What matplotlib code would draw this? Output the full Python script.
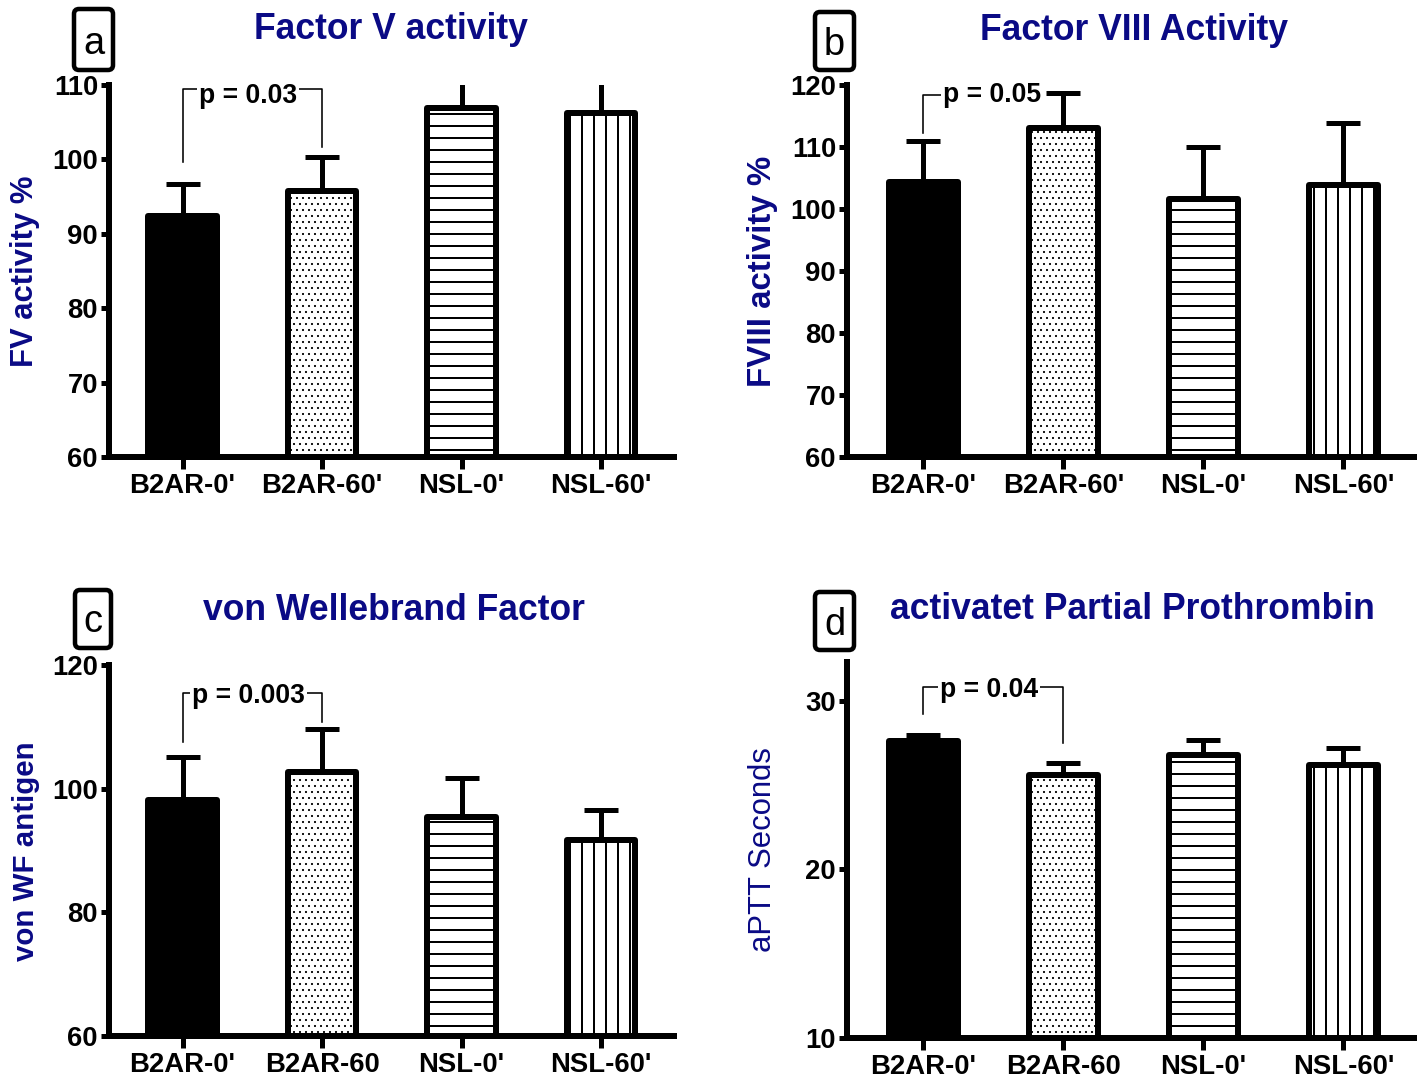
import matplotlib
matplotlib.use("Agg")
import matplotlib.pyplot as plt
import numpy as np
from matplotlib.patches import FancyBboxPatch
from matplotlib.transforms import IdentityTransform

# ---------------- data ----------------
categories_ab = ["B2AR-0'", "B2AR-60'", "NSL-0'", "NSL-60'"]
categories_cd = ["B2AR-0'", "B2AR-60", "NSL-0'", "NSL-60'"]

fv_mean = [92.4, 95.8, 106.9, 106.2]
fv_sem = [4.3, 4.5, 5.5, 5.5]

fviii_mean = [104.3, 113.1, 101.6, 103.9]
fviii_sem = [6.6, 5.6, 8.4, 9.9]

vwf_mean = [98.2, 102.7, 95.4, 91.7]
vwf_sem = [6.9, 7.0, 6.4, 4.8]

aptt_mean = [27.6, 25.6, 26.8, 26.2]
aptt_sem = [0.4, 0.7, 0.9, 1.0]

titles = ["Factor V activity", "Factor VIII Activity",
          "von Wellebrand Factor", "activatet Partial Prothrombin"]
ylabels = ["FV activity %", "FVIII activity %", "von WF antigen", "aPTT Seconds"]
letters = ["a", "b", "c", "d"]
p_texts = ["p = 0.03", "p = 0.05", "p = 0.003", "p = 0.04"]

# ---------------- style ----------------
plt.rcParams["font.family"] = ["Liberation Sans", "DejaVu Sans"]
plt.rcParams["font.weight"] = "bold"
plt.rcParams["hatch.linewidth"] = 2.0
NAVY = "#0a0a85"

W, H = 1417, 1080
DPI = 72
fig = plt.figure(figsize=(W / DPI, H / DPI), dpi=DPI)
fig.patch.set_facecolor("white")


def rect(l, r, b, t):
    return [l / W, 1 - b / H, (r - l) / W, (b - t) / H]


hatches = [None, "..", "-", "|"]
hatch_lw = [1.0, 0.9, 2.0, 2.0]
faces = ["black", "white", "white", "white"]

panels = [
    dict(box=rect(109, 674, 457, 85), xlim=(-0.527, 3.523), ylim=(60, 110),
         yticks=np.arange(60, 111, 10), mean=fv_mean, sem=fv_sem, cats=categories_ab,
         title_xy=(391, 39), ylab_xy=(25, 271), ylab_size=31, ylab_w="bold",
         letter_box=(74, 113, 9, 70), letter_base=54,
         bracket=([0, 0, 1, 1], [99.7, 109.4, 109.4, 101.7]), ptext=(0.47, 107.6)),
    dict(box=rect(847, 1417, 457, 85), xlim=(-0.546, 3.525), ylim=(60, 120),
         yticks=np.arange(60, 121, 10), mean=fviii_mean, sem=fviii_sem, cats=categories_ab,
         title_xy=(1134, 40), ylab_xy=(762, 271), ylab_size=33, ylab_w="bold",
         letter_box=(815, 854, 12, 70), letter_base=55,
         bracket=([0, 0, 0.85], [112.3, 118.4, 118.4]), ptext=(0.49, 117.3)),
    dict(box=rect(109, 674, 1036, 665), xlim=(-0.527, 3.523), ylim=(60, 120),
         yticks=np.arange(60, 121, 20), mean=vwf_mean, sem=vwf_sem, cats=categories_cd,
         title_xy=(394, 620), ylab_xy=(26, 851), ylab_size=29.5, ylab_w="bold",
         letter_box=(75, 111, 590, 648), letter_base=632,
         bracket=([0, 0, 1, 1], [107.6, 115.5, 115.5, 110.8]), ptext=(0.47, 113.9)),
    dict(box=rect(847, 1417, 1038, 662), xlim=(-0.546, 3.525), ylim=(10, 32.3),
         yticks=[10, 20, 30], mean=aptt_mean, sem=aptt_sem, cats=categories_cd,
         title_xy=(1132, 619), ylab_xy=(763, 850), ylab_size=31, ylab_w="normal",
         letter_box=(815, 854, 592, 650), letter_base=635,
         bracket=([0, 0, 1, 1], [29.2, 30.8, 30.8, 27.5]), ptext=(0.47, 30.2)),
]

for i, p in enumerate(panels):
    ax = fig.add_axes(p["box"])
    x = np.arange(len(p["cats"]))
    for j in range(len(x)):
        with plt.rc_context({"hatch.linewidth": hatch_lw[j]}):
            bars = ax.bar(x[j], p["mean"][j], width=0.49, color=faces[j],
                          edgecolor="black", linewidth=6, hatch=hatches[j], zorder=2)
        for b in bars:
            b.set_joinstyle("round")
            if hasattr(b, "set_hatch_linewidth"):
                b.set_hatch_linewidth(hatch_lw[j])
    eb = ax.errorbar(x, p["mean"], yerr=[np.zeros(len(x)), p["sem"]], fmt="none",
                     ecolor="black", elinewidth=5, capsize=17, capthick=5, zorder=5)
    eb[1][0].set_visible(False)

    ax.set_xlim(*p["xlim"])
    ax.set_ylim(*p["ylim"])
    ax.set_yticks(p["yticks"])
    ax.set_xticks(x)
    ax.set_xticklabels(p["cats"])
    for s in ["top", "right"]:
        ax.spines[s].set_visible(False)
    for s in ["left", "bottom"]:
        ax.spines[s].set_linewidth(6)
    ax.tick_params(axis="y", length=8, width=5, labelsize=27.5, pad=3)
    ax.tick_params(axis="x", length=12, width=5, labelsize=27.5, pad=4)
    ax.set_facecolor("none")

    # significance bracket
    bx, by = p["bracket"]
    ax.plot(bx, by, color="black", lw=1.6, zorder=3, clip_on=False)
    ax.text(p["ptext"][0], p["ptext"][1], p_texts[i], ha="center", va="baseline",
            fontsize=26.5, fontweight="bold", zorder=4,
            bbox=dict(facecolor="white", edgecolor="none", pad=2))

    # title
    tx, ty = p["title_xy"]
    fig.text(tx / W, 1 - ty / H, titles[i], ha="center", va="baseline",
             fontsize=35.5, fontweight="bold", color=NAVY)
    # y label
    lx, ly = p["ylab_xy"]
    fig.text(lx / W, 1 - ly / H, ylabels[i], ha="center", va="center", rotation=90,
             fontsize=p["ylab_size"], fontweight=p["ylab_w"], color=NAVY)
    # letter box
    l, r, t, b = p["letter_box"]
    box = FancyBboxPatch((l, H - b), r - l, b - t,
                         boxstyle="round,pad=0,rounding_size=5",
                         transform=IdentityTransform(), facecolor="white",
                         edgecolor="black", linewidth=4.5)
    fig.add_artist(box)
    fig.text((l + r) / 2 / W, 1 - p["letter_base"] / H, letters[i], ha="center",
             va="baseline", fontsize=38, fontweight="normal",
             family=["Liberation Sans Narrow", "Liberation Sans"], color="black")

fig.savefig("out.png", dpi=DPI, facecolor="white")
